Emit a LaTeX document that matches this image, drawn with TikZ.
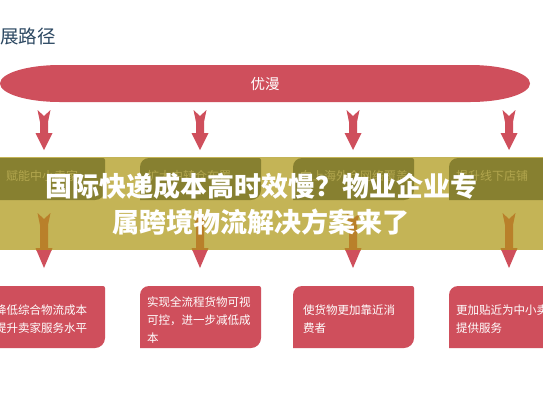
\documentclass[tikz,border=0pt]{standalone}
\usepackage{fontspec}
\newfontfamily\cjk{Noto Sans CJK SC}
\definecolor{youRed}{RGB}{207,79,92}
\definecolor{bannerLight}{RGB}{196,180,86}
\definecolor{bannerDark}{RGB}{135,128,48}
\definecolor{bannerText}{RGB}{178,166,78}
\definecolor{arrowBrown}{RGB}{185,128,42}
\definecolor{headBlue}{RGB}{44,72,98}
\usetikzlibrary{positioning}

% box with a round top-left and bottom-right corner
\newcommand{\leafbox}[5]{%
  \fill[#1] (#2,#5) -- (#2,#3+9) arc[start angle=180, end angle=270, radius=9]
    -- (#4-2,#3) arc[start angle=270, end angle=360, radius=2]
    -- (#4,#5-10) arc[start angle=0, end angle=90, radius=10] -- cycle;}
% down arrow with a forked tail: style, x, top, head base, tip
\newcommand{\blockarrow}[5]{%
  \fill[#1] (#2-6.5,#3) -- (#2,#3+6) -- (#2+6.5,#3) -- (#2+4,#3+12) -- (#2+4,#4)
    -- (#2+8.5,#4) -- (#2,#5) -- (#2-8.5,#4) -- (#2-4,#4) -- (#2-4,#3+12) -- cycle;}

\begin{document}
\begin{tikzpicture}[x=1pt, y=-1pt,
  boxtext/.style={font=\cjk\fontsize{11.5}{18}\selectfont, text=white,
                  align=left, inner sep=0pt, anchor=west},
  darktext/.style={font=\cjk\fontsize{12}{14}\selectfont, text=bannerText,
                   inner sep=0pt, anchor=west}
]
  \clip (0,0) rectangle (543,408);
  \fill[white] (0,0) rectangle (543,408);

  \node[anchor=west, inner sep=0pt, text=headBlue,
        font=\cjk\fontsize{18.5}{20}\selectfont] (path) at (0,36) {展路径};

  % band
  \fill[youRed] (60,65) -- (470,65)
    arc[start angle=270, end angle=450, x radius=60, y radius=18.5]
    -- (60,102) arc[start angle=90, end angle=270, x radius=60, y radius=18.5] -- cycle;
  \node[text=white, inner sep=0pt, font=\cjk\fontsize{14.5}{16}\selectfont]
    (youman) at (265,84) {优漫};

  \foreach \ax in {44,200,353,509}
    {\blockarrow{youRed}{\ax}{110}{133}{150}}

  % banner
  \fill[bannerLight] (0,157) rectangle (543,250);
  \leafbox{bannerDark}{-16}{158}{105}{200}
  \leafbox{bannerDark}{140}{158}{261}{200}
  \leafbox{bannerDark}{293}{158}{414}{200}
  \leafbox{bannerDark}{449}{158}{570}{200}
  \node[darktext] (d1) at (6,176)   {赋能中小卖家};
  \node[darktext] (d2) at (147,176) {扩大中转仓布置};
  \node[darktext] (d3) at (300,176) {向上海外仓网络覆盖};
  \node[darktext] (d4) at (456,176) {提升线下店铺};

  \begin{scope}
    \clip (0,157) rectangle (543,250);
    \foreach \ax in {44,200,353,509}
      {\blockarrow{arrowBrown}{\ax}{213}{248}{268}}
  \end{scope}
  \begin{scope}
    \clip (0,250) rectangle (543,300);
    \foreach \ax in {44,200,353,509}
      {\blockarrow{youRed}{\ax}{213}{248}{268}}
  \end{scope}

  \node[text=white, align=center, inner sep=0pt,
        font=\cjk\bfseries\fontsize{27}{36}\selectfont] (headline) at (261,204)
    {国际快递成本高时效慢？物业企业专\\属跨境物流解决方案来了};

  % boxes
  \leafbox{youRed}{-16}{286}{105}{348}
  \leafbox{youRed}{140}{286}{261}{348}
  \leafbox{youRed}{293}{286}{414}{348}
  \leafbox{youRed}{449}{286}{570}{348}
  \node[boxtext] (b1) at (-5,319)  {降低综合物流成本\\提升卖家服务水平};
  \node[boxtext] (b2) at (147,320) {实现全流程货物可视\\可控，进一步减低成\\本};
  \node[boxtext] (b3) at (303,319) {使货物更加靠近消\\费者};
  \node[boxtext] (b4) at (456,319) {更加贴近为中小卖家\\提供服务};
\end{tikzpicture}
\end{document}
